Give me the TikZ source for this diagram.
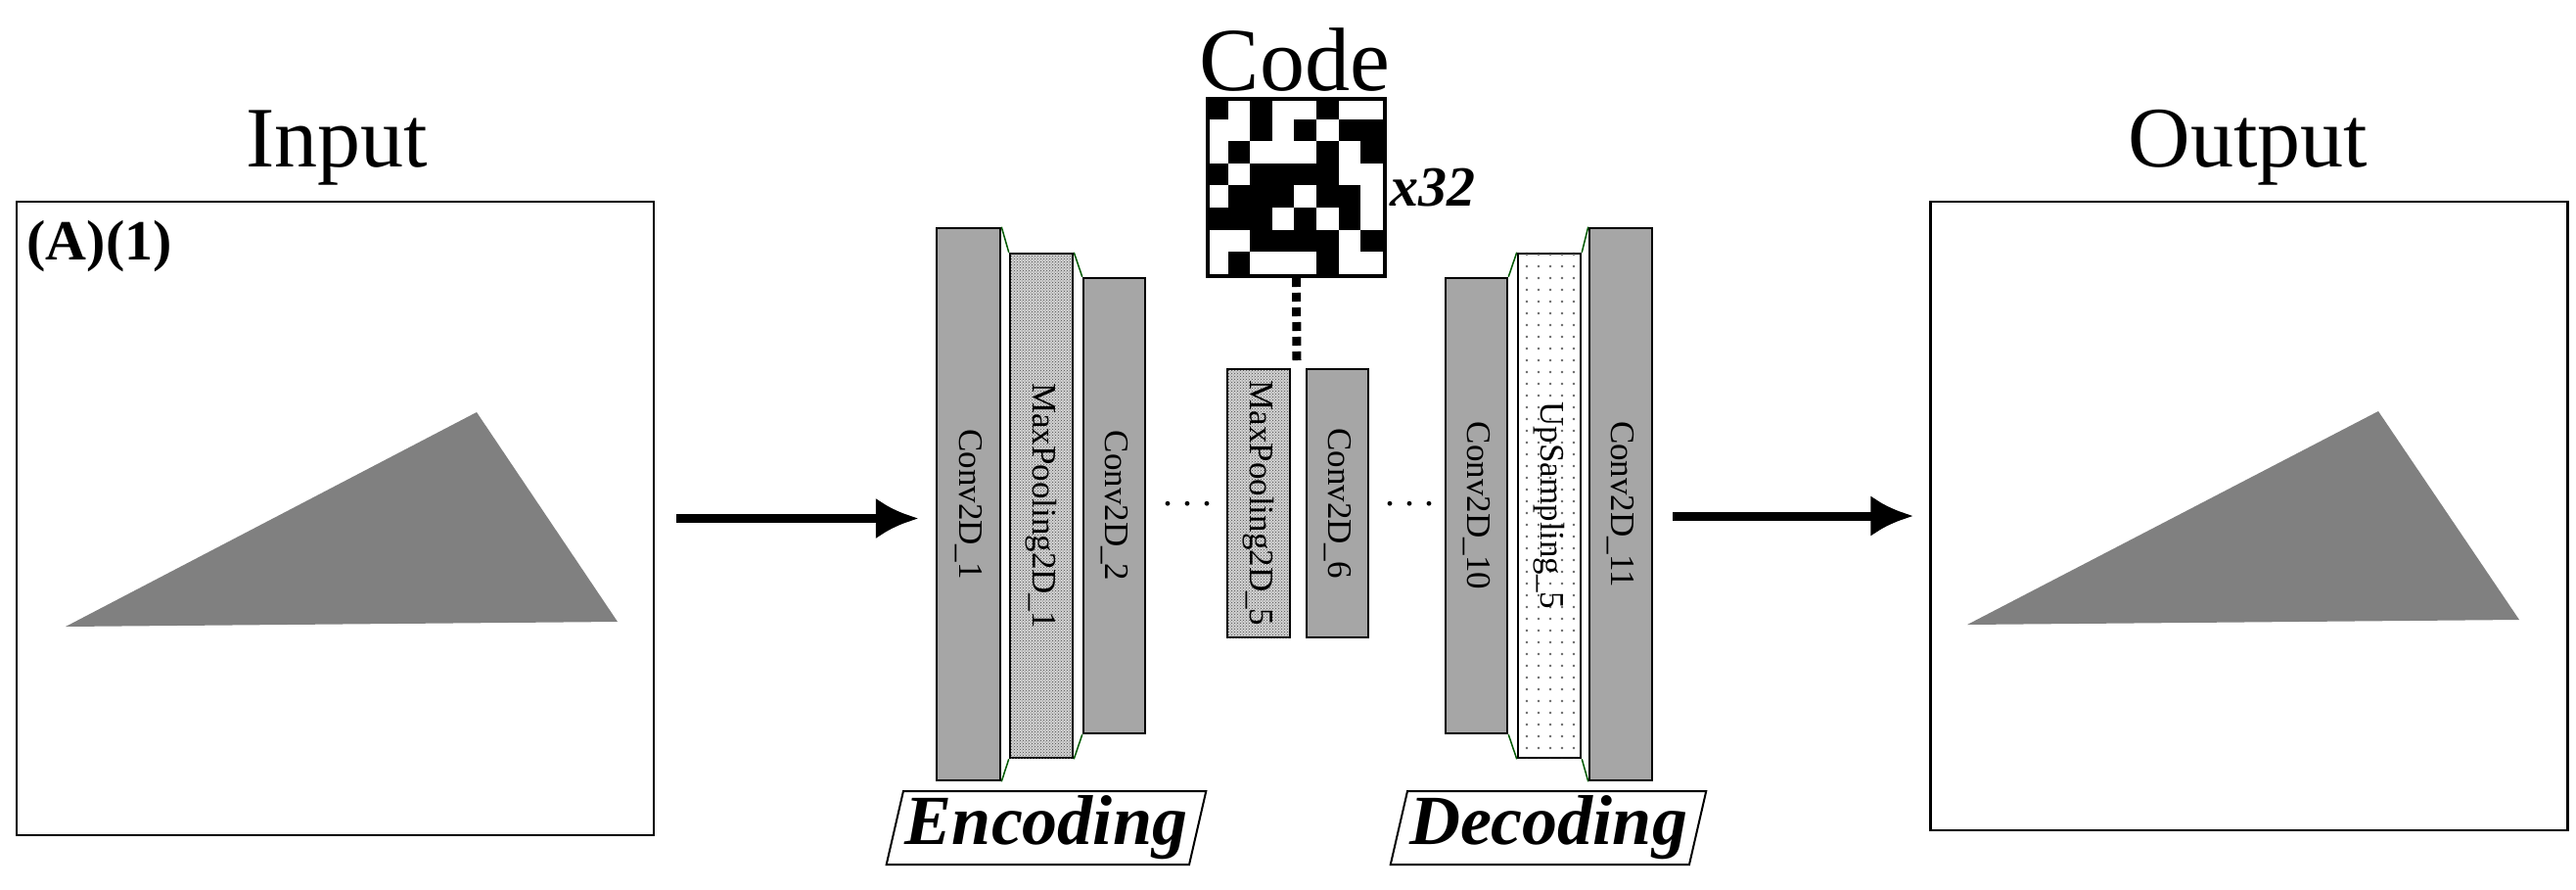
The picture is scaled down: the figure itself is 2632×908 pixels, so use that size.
\documentclass[tikz,border=0pt]{standalone}
\usepackage{fontspec}
\setmainfont{Liberation Serif}
\usetikzlibrary{arrows.meta,patterns,patterns.meta,shapes.geometric,calc}
\tikzset{
  frame/.style={draw,line width=2.5pt,minimum width=651pt,minimum height=647pt},
  title/.style={font=\fontsize{88}{90}\selectfont},
  layer/.style={draw,line width=2.5pt,fill=black!35,inner sep=0pt,font=\fontsize{35}{37}\selectfont},
  pool/.style={layer,fill=black!18,postaction={pattern={crosshatch dots},pattern color=black!70}},
  up/.style={layer,fill=white,postaction={pattern={Dots[distance=12pt,radius=1.3pt]},pattern color=black!60}},
  link/.style={draw=green!35!black,line width=1.5pt},
  stage/.style={draw,line width=2pt,trapezium,trapezium left angle=76,trapezium right angle=104,
    trapezium stretches body,minimum width=300pt,minimum height=75pt,inner sep=2pt,
    font=\fontsize{72}{74}\selectfont\bfseries\itshape},
  flow/.style={line width=9pt,-{Latex[length=44pt,width=42pt]}},
  tri/.style={fill=black!50}
}
\newcommand{\lay}[1]{\rotatebox{-90}{#1}}
\begin{document}
\begin{tikzpicture}[x=1pt,y=-1pt]
  \useasboundingbox (0,0) rectangle (2632,908);
  % input and output images
  \node[frame] (inp) at (342.5,529.5) {};
  \node[frame,minimum height=642pt] (out) at (2298,527) {};
  \node[title] (tin) at (344,151) {Input};
  \node[title] (tout) at (2297,151) {Output};
  \node[anchor=west,font=\fontsize{58}{60}\selectfont\bfseries] (tag) at (24,252) {(A)(1)};
  \fill[tri] (67,640) -- (487,421) -- (631,635) -- cycle;
  \fill[tri] (2010,638) -- (2430,420) -- (2574,633) -- cycle;
  % encoder
  \node[layer,minimum width=65pt,minimum height=564pt] (c1) at (989.5,515) {\lay{Conv2D\_1}};
  \node[pool,minimum width=64pt,minimum height=515pt] (m1) at (1064,516.5) {\lay{MaxPooling2D\_1}};
  \node[layer,minimum width=63pt,minimum height=465pt] (c2) at (1138.5,516.5) {\lay{Conv2D\_2}};
  \node[font=\fontsize{40}{40}\selectfont] (d1) at (1213,515) {.\hspace{10pt}.\hspace{10pt}.};
  \node[pool,minimum width=64pt,minimum height=274pt] (m5) at (1286,514) {\lay{MaxPooling2D\_5}};
  \node[layer,minimum width=63pt,minimum height=274pt] (c6) at (1366.5,514) {\lay{Conv2D\_6}};
  \node[font=\fontsize{40}{40}\selectfont] (d2) at (1440,515) {.\hspace{10pt}.\hspace{10pt}.};
  % decoder
  \node[layer,minimum width=63pt,minimum height=465pt] (c10) at (1508.5,516.5) {\lay{Conv2D\_10}};
  \node[up,minimum width=64pt,minimum height=515pt] (u5) at (1583,516.5) {\lay{UpSampling\_5}};
  \node[layer,minimum width=64pt,minimum height=564pt] (c11) at (1656,515) {\lay{Conv2D\_11}};
  \foreach \a/\b in {c1/m1,m1/c2}{
    \draw[link] (\a.north east) -- (\b.north west);
    \draw[link] (\a.south east) -- (\b.south west);
  }
  \foreach \a/\b in {c10/u5,u5/c11}{
    \draw[link] (\a.north east) -- (\b.north west);
    \draw[link] (\a.south east) -- (\b.south west);
  }
  % code
  \node[title,font=\fontsize{92}{94}\selectfont] (tcode) at (1323,61) {Code};
  \node[draw,line width=4pt,minimum size=181pt,inner sep=0pt,fill=white] (grid) at (1324.5,191.5) {};
  \foreach \row [count=\j] in {{1,0,1,0,0,1,0,0},{0,0,1,0,1,0,1,1},{0,1,0,0,0,1,0,1},{1,0,1,1,1,1,0,0},
      {0,1,1,1,0,1,1,0},{1,1,1,0,1,0,1,0},{0,0,1,1,1,1,0,1},{0,1,0,0,0,1,0,0}}{
    \foreach \v [count=\i] in \row {
      \ifnum\v=1 \fill ($(grid.north west)+(\i*22.6-22.6,\j*22.6-22.6)$) rectangle ++(22.6,22.6);\fi
    }
  }
  \node[anchor=west,font=\fontsize{58}{60}\selectfont\bfseries\itshape] (mult) at (grid.east) {x32};
  \coordinate (gap) at (1325,370);
  \draw[line width=9pt,dash pattern=on 9pt off 6pt] (grid.south) -- (gap);
  % stages
  \node[stage] (enc) at (1069,845.5) {Encoding};
  \node[stage] (dec) at (1582,845.5) {Decoding};
  % flow
  \draw[flow,shorten <=22pt,shorten >=17pt] (inp.east) -- (inp.east -| c1.west);
  \draw[flow,shorten <=20pt,shorten >=16pt] (c11.east |- out.west) -- (out.west);
\end{tikzpicture}
\end{document}
